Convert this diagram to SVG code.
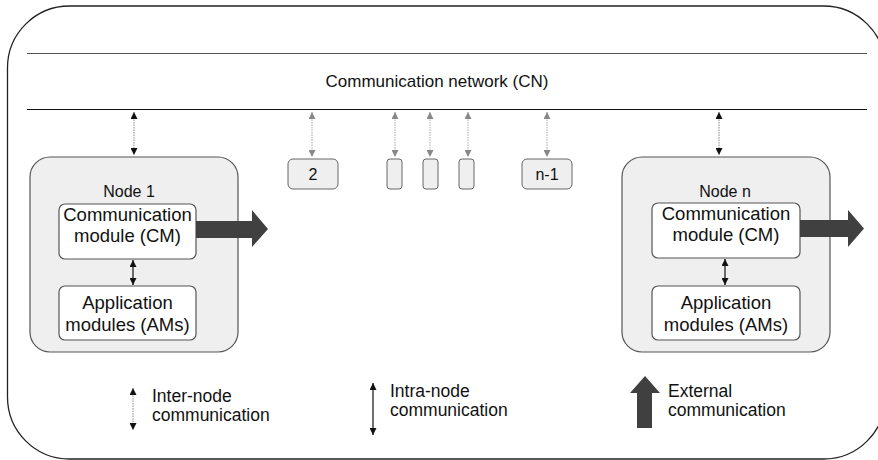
<svg xmlns="http://www.w3.org/2000/svg" width="878" height="460" viewBox="0 0 878 460">
<defs>
<style>
text{font-family:"Liberation Sans",Arial,sans-serif;fill:#111}
.node{fill:#efefef;stroke:#555;stroke-width:1.2}
.mod{fill:#fff;stroke:#555;stroke-width:1.2}
.small{fill:#efefef;stroke:#666;stroke-width:1}
.inter{stroke:#888;stroke-width:1;stroke-dasharray:1.5 1;marker-start:url(#hb);marker-end:url(#hb)}
.interg{stroke:#aaa;stroke-width:1;stroke-dasharray:1.5 1;marker-start:url(#hg);marker-end:url(#hg)}
.intra{stroke:#222;stroke-width:1.3;marker-start:url(#hb);marker-end:url(#hb)}
.fat{fill:#404040}
</style>
<marker id="hb" viewBox="0 0 10 10" refX="10" refY="5" markerWidth="7" markerHeight="7" markerUnits="userSpaceOnUse" orient="auto-start-reverse"><path d="M0,0 L10,5 L0,10 z" fill="#111"/></marker>
<marker id="hg" viewBox="0 0 10 10" refX="10" refY="5" markerWidth="7" markerHeight="7" markerUnits="userSpaceOnUse" orient="auto-start-reverse"><path d="M0,0 L10,5 L0,10 z" fill="#888"/></marker>
</defs>
<rect x="7.5" y="6" width="878" height="453" rx="62" ry="62" fill="#fff" stroke="#222" stroke-width="1.3"/>
<g id="network">
<line x1="27" y1="53.5" x2="867" y2="53.5" stroke="#555" stroke-width="1.2"/>
<line x1="27" y1="109.5" x2="867" y2="109.5" stroke="#111" stroke-width="1.2"/>
<text x="437" y="87" font-size="17" text-anchor="middle">Communication network (CN)</text>
</g>
<g id="node1">
<rect class="node" x="30" y="157" width="208" height="195" rx="20"/>
<text x="129" y="197" font-size="16" text-anchor="middle">Node 1</text>
<g id="cm1"><rect class="mod" x="59" y="204" width="137" height="55" rx="6"/>
<text x="127.5" y="221" font-size="18.5" text-anchor="middle">Communication</text>
<text x="127.5" y="242" font-size="18.5" text-anchor="middle">module (CM)</text></g>
<g id="am1"><rect class="mod" x="59" y="286" width="137" height="54" rx="6"/>
<text x="127.5" y="309" font-size="18.5" text-anchor="middle">Application</text>
<text x="127.5" y="331" font-size="18.5" text-anchor="middle">modules (AMs)</text></g>
</g>
<g id="node2"><rect class="small" x="288" y="159" width="50" height="30" rx="5"/>
<text x="313" y="180" font-size="16" text-anchor="middle">2</text></g>
<g id="node3"><rect class="small" x="387" y="159" width="15" height="30" rx="3"/></g>
<g id="node4"><rect class="small" x="423" y="159" width="15" height="30" rx="3"/></g>
<g id="node5"><rect class="small" x="459" y="159" width="15" height="30" rx="3"/></g>
<g id="nodeN1"><rect class="small" x="522" y="159" width="50" height="30" rx="5"/>
<text x="547" y="180" font-size="16" text-anchor="middle">n-1</text></g>
<g id="nodeN">
<rect class="node" x="622" y="157" width="208" height="195" rx="20"/>
<text x="725" y="197" font-size="16" text-anchor="middle">Node n</text>
<g id="cmn"><rect class="mod" x="652" y="203" width="148" height="55" rx="6"/>
<text x="726" y="220" font-size="18.5" text-anchor="middle">Communication</text>
<text x="726" y="241" font-size="18.5" text-anchor="middle">module (CM)</text></g>
<g id="amn"><rect class="mod" x="652" y="286" width="148" height="54" rx="6"/>
<text x="726" y="309" font-size="18.5" text-anchor="middle">Application</text>
<text x="726" y="331" font-size="18.5" text-anchor="middle">modules (AMs)</text></g>
</g>
<g id="connectors">
<line class="inter" x1="134" y1="112" x2="134" y2="155"/>
<line class="inter" x1="719" y1="112" x2="719" y2="155"/>
<line class="interg" x1="312" y1="112" x2="312" y2="157"/>
<line class="interg" x1="395" y1="112" x2="395" y2="157"/>
<line class="interg" x1="430" y1="112" x2="430" y2="157"/>
<line class="interg" x1="468" y1="112" x2="468" y2="157"/>
<line class="interg" x1="547" y1="112" x2="547" y2="157"/>
<line class="intra" x1="133" y1="260" x2="133" y2="285"/>
<line class="intra" x1="725" y1="259" x2="725" y2="285"/>
<path class="fat" d="M196,221 H252 V210 L268,229 L252,247 V238 H196 z"/>
<path class="fat" d="M800,220 H848 V210 L864,228.5 L848,247 V237 H800 z"/>
</g>
<g id="legend">
<line class="inter" x1="133" y1="388" x2="133" y2="430"/>
<text x="152" y="402" font-size="17.5">Inter-node</text>
<text x="152" y="421" font-size="17.5">communication</text>
<line class="intra" x1="373" y1="383" x2="373" y2="435"/>
<text x="390" y="397" font-size="17.5">Intra-node</text>
<text x="390" y="416" font-size="17.5">communication</text>
<path class="fat" d="M645,376 L660,393 H652 V428 H637 V393 H630 z"/>
<text x="668" y="397" font-size="17.5">External</text>
<text x="668" y="416" font-size="17.5">communication</text>
</g>
</svg>
